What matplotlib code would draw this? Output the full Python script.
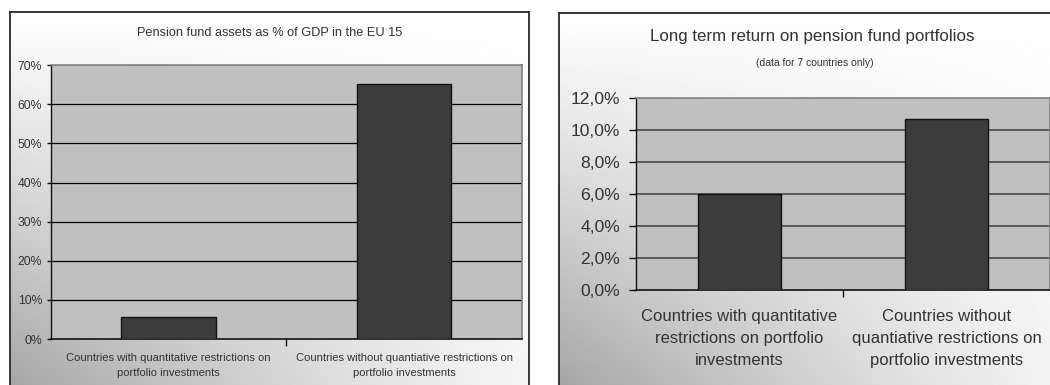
import matplotlib
matplotlib.use("Agg")
import matplotlib.pyplot as plt
import numpy as np

# ---- data ----
left_title = "Pension fund assets as % of GDP in the EU 15"
left_categories = ["Countries with quantitative restrictions on\nportfolio investments",
                   "Countries without quantiative restrictions on\nportfolio investments"]
left_values = [5.5, 65.1]
left_ticks = [0, 10, 20, 30, 40, 50, 60, 70]
left_ticklabels = ["0%", "10%", "20%", "30%", "40%", "50%", "60%", "70%"]

right_title = "Long term return on pension fund portfolios"
right_subtitle = "(data for 7 countries only)"
right_categories = ["Countries with quantitative\nrestrictions on portfolio\ninvestments",
                    "Countries without\nquantiative restrictions on\nportfolio investments"]
right_values = [6.0, 10.7]
right_ticks = [0, 2, 4, 6, 8, 10, 12]
right_ticklabels = ["0,0%", "2,0%", "4,0%", "6,0%", "8,0%", "10,0%", "12,0%"]

plt.rcParams['font.family'] = ['Liberation Sans', 'DejaVu Sans']
TXT = '#333333'

W, H = 1050, 385
fig = plt.figure(figsize=(W / 100, H / 100), dpi=100)


def px_rect(x0, y0, x1, y1):
    return [x0 / W, 1 - y1 / H, (x1 - x0) / W, (y1 - y0) / H]


def frame(x0, y0, x1, y1):
    ax = fig.add_axes(px_rect(x0, y0, x1, y1), zorder=0)
    u = np.linspace(0, 1, 200)
    v = np.linspace(0, 1, 200)
    U, V = np.meshgrid(u, v)  # V=0 top, 1 bottom
    val = 1 - 0.32 * (1 - U) ** 1.2 * V ** 1.1 - 0.04 * V
    ax.imshow(val, cmap='gray', vmin=0, vmax=1, aspect='auto',
              extent=[0, 1, 1, 0], interpolation='bilinear')
    ax.set_xticks([])
    ax.set_yticks([])
    for s in ax.spines.values():
        s.set_color('#2a2a2a')
        s.set_linewidth(1.3)
    return ax


def bar_panel(rect, cats, vals, ticks, ticklabels, tick_fs, cat_fs, grid_col, grid_lw,
              cat_pad, tick_len, tick_pad, lsp):
    ax = fig.add_axes(rect, zorder=2)
    ax.set_facecolor('#c0c0c0')
    x = np.arange(len(cats))
    ax.bar(x, vals, width=0.4, color='#3c3c3c', edgecolor='#111111', linewidth=1.0, zorder=3)
    ax.set_xlim(-0.5, len(cats) - 0.5)
    ax.set_ylim(ticks[0], ticks[-1])
    ax.set_yticks(ticks)
    ax.set_yticklabels(ticklabels, fontsize=tick_fs, color=TXT)
    ax.set_xticks(x)
    ax.set_xticklabels(cats, fontsize=cat_fs, color=TXT, linespacing=lsp)
    ax.set_xticks(np.arange(len(cats) - 1) + 0.5, minor=True)
    ax.tick_params(axis='x', which='major', length=0, pad=cat_pad)
    ax.tick_params(axis='x', which='minor', length=5, width=1, direction='out', color='#111111')
    ax.tick_params(axis='y', length=tick_len, width=1, direction='out', color='#111111', pad=tick_pad)
    for t in ticks[1:-1]:
        ax.axhline(t, color=grid_col, lw=grid_lw, zorder=1)
    ax.spines['left'].set_color('#111111')
    ax.spines['bottom'].set_color('#111111')
    ax.spines['left'].set_linewidth(1.0)
    ax.spines['bottom'].set_linewidth(1.2)
    ax.spines['top'].set_color('#808080')
    ax.spines['right'].set_color('#808080')
    ax.spines['top'].set_linewidth(1.2)
    ax.spines['right'].set_linewidth(1.2)
    return ax


# left panel
frame(10, 12, 529, 395)
bar_panel(px_rect(50.5, 65.3, 522, 339), left_categories, left_values, left_ticks,
          left_ticklabels, 8.8, 8, '#000000', 0.9, 9.8, 3, 3, 1.66)
fig.text(270 / W, 1 - 33 / H, left_title, ha='center', va='center', fontsize=9.2, color=TXT)

# right panel
frame(559, 13, 1080, 395)
bar_panel(px_rect(636, 98, 1050, 290), right_categories, right_values, right_ticks,
          right_ticklabels, 12.6, 12, '#4a4a4a', 1.2, 13.8, 5, 6.5, 1.59)
fig.text(812 / W, 1 - 36 / H, right_title, ha='center', va='center', fontsize=12.2, color=TXT)
fig.text(815 / W, 1 - 63 / H, right_subtitle, ha='center', va='center', fontsize=7.5, color=TXT)

fig.savefig('out.png', dpi=100)
